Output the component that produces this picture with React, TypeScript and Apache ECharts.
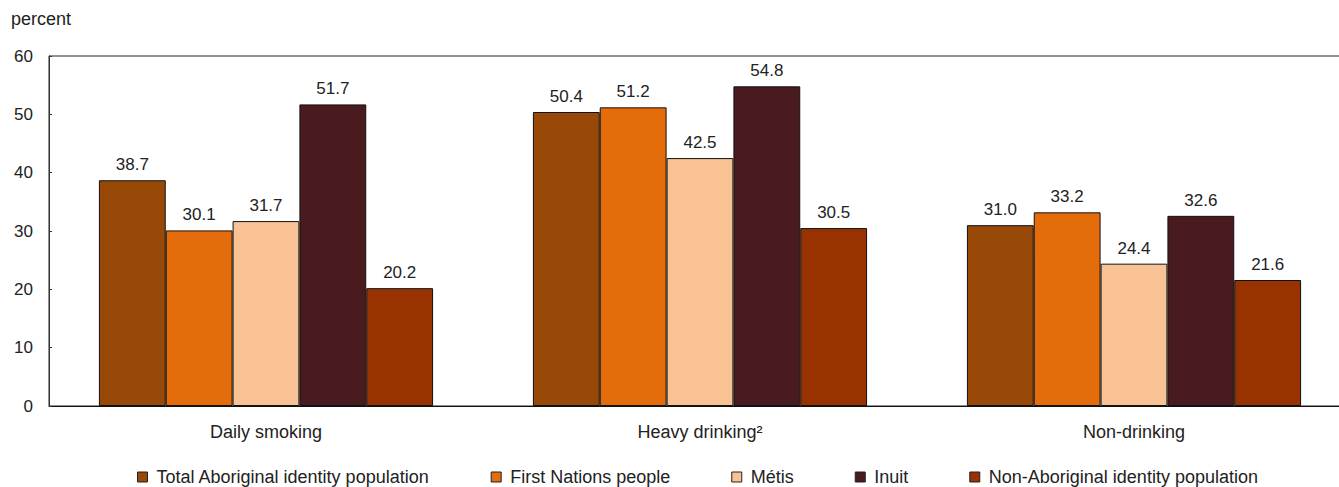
import React, { useEffect, useRef } from "react";
import * as echarts from "echarts";

const categories = ["Daily smoking", "Heavy drinking²", "Non-drinking"];
const seriesNames = [
  "Total Aboriginal identity population",
  "First Nations people",
  "Métis",
  "Inuit",
  "Non-Aboriginal identity population",
];
const totalAboriginal = [38.7, 50.4, 31.0];
const firstNations = [30.1, 51.2, 33.2];
const metis = [31.7, 42.5, 24.4];
const inuit = [51.7, 54.8, 32.6];
const nonAboriginal = [20.2, 30.5, 21.6];
const yTicks = [0, 10, 20, 30, 40, 50, 60];

const seriesValues = [totalAboriginal, firstNations, metis, inuit, nonAboriginal];
const seriesColors = ["#984807", "#E46C0A", "#F9C294", "#4A1B1E", "#983200"];

const FONT = "'Liberation Sans', Arial, sans-serif";
const TEXT = "#222222";

export default function App() {
  const ref = useRef<HTMLDivElement>(null);

  useEffect(() => {
    if (!ref.current) return;
    const chart = echarts.init(ref.current, undefined, { renderer: "svg" });

    const series = seriesNames.map((name, i) => ({
      name,
      type: "bar",
      data: seriesValues[i],
      barGap: "0%",
      barCategoryGap: "23%",
      itemStyle: {
        color: seriesColors[i],
        borderColor: "#111111",
        borderWidth: 1,
      },
      label: {
        show: true,
        position: "top",
        distance: 7,
        color: TEXT,
        fontFamily: FONT,
        fontSize: 17,
        formatter: (p: any) => Number(p.value).toFixed(1),
      },
    }));

    chart.setOption({
      animation: false,
      backgroundColor: "#ffffff",
      textStyle: { fontFamily: FONT, color: TEXT },
      grid: {
        left: 49,
        top: 56,
        right: -12,
        bottom: 81,
        show: true,
        borderColor: "#222222",
        borderWidth: 1,
        containLabel: false,
        outerBoundsMode: "none",
      },
      graphic: [
        {
          type: "text",
          left: 11,
          top: 10,
          style: {
            text: "percent",
            fontFamily: FONT,
            fontSize: 18,
            fill: TEXT,
          },
        },
      ],
      legend: {
        left: 137,
        top: 468,
        padding: 0,
        itemWidth: 10,
        itemHeight: 10,
        itemGap: 61,
        icon: "rect",
        data: seriesNames,
        selectedMode: false,
        textStyle: {
          fontFamily: FONT,
          fontSize: 18,
          color: TEXT,
          padding: [0, 0, 0, 4],
        },
        itemStyle: { borderColor: "#222222", borderWidth: 1 },
      },
      xAxis: {
        type: "category",
        data: categories,
        axisLine: { show: true, lineStyle: { color: "#111111", width: 1 } },
        axisTick: { show: false },
        axisLabel: {
          color: TEXT,
          fontFamily: FONT,
          fontSize: 18,
          margin: 17,
        },
      },
      yAxis: {
        type: "value",
        min: yTicks[0],
        max: yTicks[yTicks.length - 1],
        interval: 10,
        splitLine: { show: false },
        axisLine: { show: true, lineStyle: { color: "#333333", width: 1 } },
        axisTick: {
          show: true,
          inside: true,
          length: 3,
          lineStyle: { color: "#333333" },
        },
        axisLabel: {
          color: TEXT,
          fontFamily: FONT,
          fontSize: 17,
          margin: 16,
        },
      },
      series,
    });

    return () => chart.dispose();
  }, []);

  return (
    <div
      ref={ref}
      style={{ position: "absolute", left: 0, top: 0, width: 1339, height: 487 }}
    />
  );
}
